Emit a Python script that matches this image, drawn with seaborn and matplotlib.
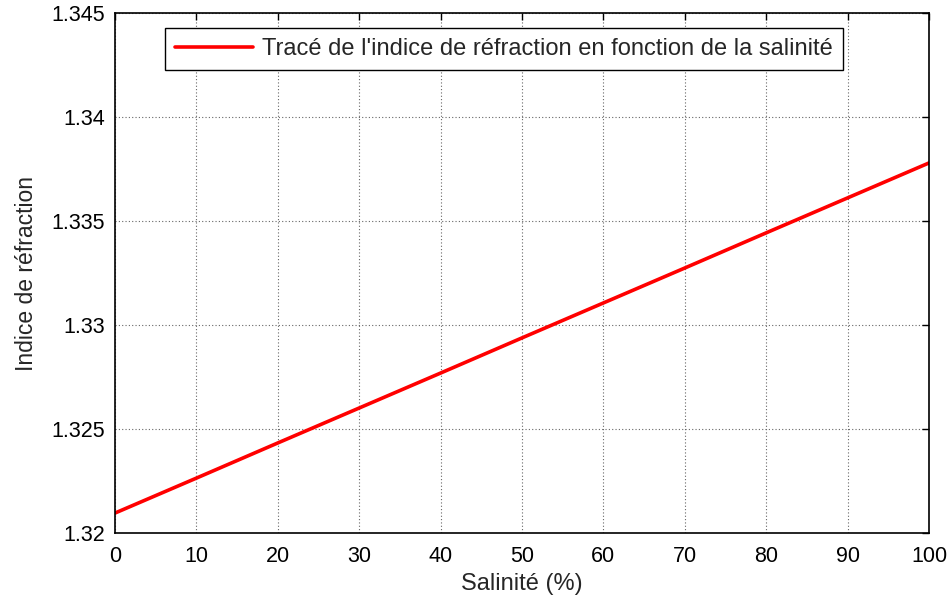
import matplotlib
matplotlib.use("Agg")
import matplotlib.pyplot as plt
import seaborn as sns
import pandas as pd

# Salinity (%) and the refractive index
salinity = [0, 10, 20, 30, 40, 50, 60, 70, 80, 90, 100]
refractive_index = [1.32096, 1.32264, 1.32433, 1.32601, 1.32769, 1.32938,
                    1.33106, 1.33274, 1.33443, 1.33611, 1.33779]
x_ticks = [0, 10, 20, 30, 40, 50, 60, 70, 80, 90, 100]
y_ticks = [1.32, 1.325, 1.33, 1.335, 1.34, 1.345]
y_tick_labels = ["1.32", "1.325", "1.33", "1.335", "1.34", "1.345"]
series_label = "Tracé de l'indice de réfraction en fonction de la salinité"

df = pd.DataFrame({"Salinité": salinity, "Indice": refractive_index})

sns.set_style("white")
plt.rcParams["font.family"] = ["Liberation Sans", "DejaVu Sans"]

fig = plt.figure(figsize=(9.52, 6.01), dpi=100)
ax = fig.add_axes([0.1208, 0.1131, 0.8550, 0.8653])

sns.lineplot(data=df, x="Salinité", y="Indice", ax=ax, color="#ff0000",
             linewidth=2.6, label=series_label)

ax.set_xlim(0, 100)
ax.set_ylim(1.32, 1.345)
ax.set_xticks(x_ticks)
ax.set_yticks(y_ticks)
ax.set_yticklabels(y_tick_labels)

ax.grid(True, color="#666666", linestyle=(0, (1, 2)), linewidth=0.8)
ax.tick_params(direction="in", length=5, width=1, top=True, right=True,
               labelsize=15.5, colors="black")
ax.tick_params(axis="x", pad=9)
ax.tick_params(axis="y", pad=7)
for side in ax.spines.values():
    side.set_color("black")
    side.set_linewidth(1.2)

ax.set_xlabel("Salinité (%)", fontsize=17, labelpad=5)
ax.set_ylabel("Indice de réfraction", fontsize=16.5, labelpad=10)

leg = ax.legend(loc="upper left", bbox_to_anchor=(0.0614, 0.971),
                borderaxespad=0, fontsize=17, fancybox=False, framealpha=1,
                edgecolor="black", handlelength=3.3, handletextpad=0.4,
                borderpad=0.42)
leg.get_frame().set_linewidth(1.0)

fig.savefig("out.png", dpi=100)
